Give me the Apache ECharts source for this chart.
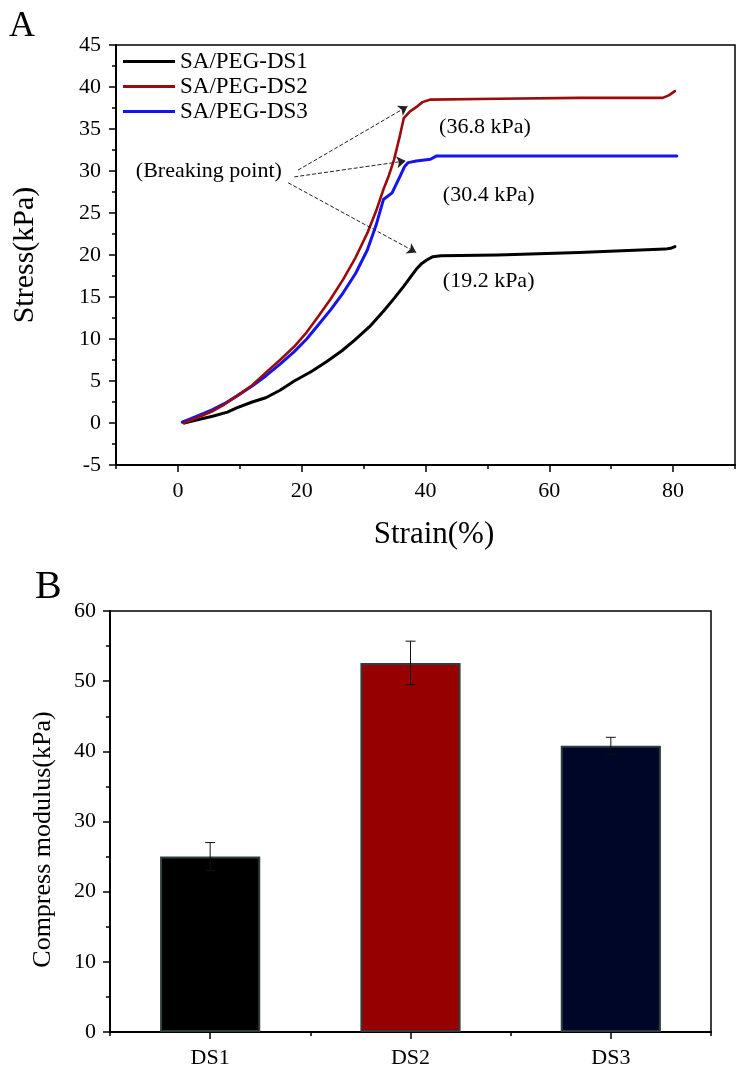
<!DOCTYPE html>
<html>
<head>
<meta charset="utf-8">
<script src="https://cdn.jsdelivr.net/npm/echarts@6/dist/echarts.min.js"></script>
<style>
html,body{margin:0;padding:0;background:#fff;}
#chart{width:740px;height:1069px;}
</style>
</head>
<body>
<div id="chart"></div>
<script>
// ---------- Panel A data: stress-strain curves [strain %, stress kPa] ----------
const seriesNames = ['SA/PEG-DS1', 'SA/PEG-DS2', 'SA/PEG-DS3'];
const ds1Curve = [[1.0,0.0],[3.0,0.35],[5.6,0.8],[8.0,1.3],[9.5,1.8],[12.0,2.5],[14.2,3.0],[16.5,3.9],[18.8,5.0],[21.5,6.1],[24.0,7.3],[26.5,8.6],[28.6,9.9],[31.0,11.5],[33.2,13.3],[35.0,14.9],[36.5,16.3],[37.6,17.4],[38.5,18.3],[39.4,19.0],[40.2,19.4],[41.2,19.8],[42.5,19.9],[51.7,20.0],[64.8,20.3],[78.7,20.7],[79.6,20.8],[80.3,21.0]];
const ds2Curve = [[1.0,0.0],[3.0,0.6],[5.6,1.4],[7.5,2.2],[9.5,3.2],[12.0,4.5],[14.2,6.0],[16.5,7.5],[18.8,9.1],[20.8,10.8],[22.7,12.7],[24.7,14.8],[26.7,17.1],[28.7,19.7],[30.6,22.6],[32.0,25.2],[33.2,27.8],[34.1,29.5],[34.9,31.3],[35.8,34.0],[36.5,36.3],[37.5,37.1],[38.5,37.6],[39.5,38.2],[40.8,38.5],[51.7,38.6],[64.8,38.7],[78.3,38.7],[79.3,39.0],[80.3,39.5]];
const ds3Curve = [[0.7,0.1],[3.0,0.8],[5.6,1.6],[7.5,2.3],[9.5,3.2],[12.0,4.4],[14.2,5.6],[16.5,7.0],[18.8,8.5],[20.8,10.0],[22.7,11.7],[24.7,13.5],[26.7,15.5],[28.7,17.8],[30.6,20.6],[32.0,23.5],[33.2,26.6],[34.6,27.4],[35.9,29.4],[36.6,30.5],[37.2,31.0],[38.5,31.2],[40.8,31.4],[41.8,31.8],[51.7,31.8],[80.6,31.8]];
const xTickLabels = [0, 20, 40, 60, 80];
// annotation texts and their anchor points [strain, stress]
const noteTexts = ['(Breaking point)', '(36.8 kPa)', '(30.4 kPa)', '(19.2 kPa)'];
const notePoints = [[5.0,30.0],[49.6,35.2],[50.2,27.1],[50.2,16.9]];
// arrows: [start, end] in data coordinates
const arrowStarts = [[19.4,30.1],[18.8,29.3],[17.8,28.6]];
const arrowEnds = [[37.1,37.7],[36.8,31.2],[38.5,20.3]];

// ---------- Panel B data: compress modulus ----------
const barCategories = ['DS1', 'DS2', 'DS3'];
const modulusValues = [25.0, 52.6, 40.8];
const modulusErrors = [2.0, 3.1, 1.2];

const serif = '"Liberation Serif","Times New Roman",serif';
const lineColors = ['#000000', '#9a0c0c', '#1414f0'];
const barColors = ['#000000', '#960000', '#000628'];

const chart = echarts.init(document.getElementById('chart'), null, {renderer: 'canvas'});

const tickLine = {color: '#000', width: 1.5};

const option = {
  backgroundColor: '#fff',
  animation: false,
  title: [
    {text: 'A', left: 4, top: 4, textStyle: {fontFamily: serif, fontSize: 36, fontWeight: 'normal', color: '#000'}},
    {text: 'B', left: 30, top: 562, textStyle: {fontFamily: serif, fontSize: 40, fontWeight: 'normal', color: '#000'}}
  ],
  legend: {
    data: seriesNames,
    orient: 'vertical',
    left: 118,
    top: 45,
    icon: 'path://M0,0 L52,0 L52,3 L0,3 Z',
    itemWidth: 52,
    itemHeight: 3,
    itemGap: 2,
    textStyle: {fontFamily: serif, fontSize: 23, color: '#000', lineHeight: 23}
  },
  grid: [
    {left: 116, right: 5, top: 45, height: 420, show: true, borderColor: '#000', borderWidth: 1.5, backgroundColor: 'transparent'},
    {left: 110, right: 29, top: 611, height: 422, show: true, borderColor: '#000', borderWidth: 1.5, backgroundColor: 'transparent'}
  ],
  xAxis: [
    {
      gridIndex: 0, type: 'value', min: -10, max: 90,
      name: 'Strain(%)', nameLocation: 'middle', nameGap: 54,
      nameTextStyle: {fontFamily: serif, fontSize: 31, color: '#000', padding: [0, 0, 0, 17]},
      axisLine: {onZero: false, lineStyle: {color: '#000', width: 2}},
      axisTick: {show: true, inside: false, length: 7, customValues: xTickLabels, lineStyle: tickLine},
      axisLabel: {customValues: xTickLabels, fontFamily: serif, fontSize: 22, color: '#000', margin: 15},
      splitLine: {show: false}
    },
    {
      gridIndex: 0, type: 'value', min: -10, max: 90, interval: 20, position: 'bottom',
      axisLine: {show: false, onZero: false},
      axisTick: {show: true, length: 4, lineStyle: tickLine},
      axisLabel: {show: false},
      splitLine: {show: false}
    },
    {
      gridIndex: 1, type: 'category', data: barCategories,
      axisLine: {lineStyle: {color: '#000', width: 2}},
      axisTick: {show: true, alignWithLabel: true, length: 7, lineStyle: tickLine},
      axisLabel: {fontFamily: serif, fontSize: 22, color: '#000', margin: 15}
    },
    {
      gridIndex: 1, type: 'category', data: barCategories, position: 'bottom',
      axisLine: {show: false},
      axisTick: {show: true, alignWithLabel: false, length: 4, lineStyle: tickLine},
      axisLabel: {show: false}
    }
  ],
  yAxis: [
    {
      gridIndex: 0, type: 'value', min: -5, max: 45, interval: 5,
      name: 'Stress(kPa)', nameLocation: 'middle', nameGap: 76,
      nameTextStyle: {fontFamily: serif, fontSize: 30, color: '#000'},
      axisLine: {show: true, onZero: false, lineStyle: {color: '#000', width: 2}},
      axisTick: {show: true, length: 7, lineStyle: tickLine},
      minorTick: {show: true, splitNumber: 2, length: 4, lineStyle: tickLine},
      axisLabel: {fontFamily: serif, fontSize: 22, color: '#000', margin: 15},
      splitLine: {show: false}
    },
    {
      gridIndex: 1, type: 'value', min: 0, max: 60, interval: 10,
      name: 'Compress modulus(kPa)', nameLocation: 'middle', nameGap: 54,
      nameTextStyle: {fontFamily: serif, fontSize: 26, color: '#000', padding: [0, 36, 0, 0]},
      axisLine: {show: true, onZero: false, lineStyle: {color: '#000', width: 2}},
      axisTick: {show: true, length: 7, lineStyle: tickLine},
      minorTick: {show: true, splitNumber: 2, length: 4, lineStyle: tickLine},
      axisLabel: {fontFamily: serif, fontSize: 22, color: '#000', margin: 14},
      splitLine: {show: false}
    }
  ],
  series: [
    {
      name: seriesNames[0], type: 'line', xAxisIndex: 0, yAxisIndex: 0,
      data: ds1Curve, showSymbol: false, smooth: false,
      lineStyle: {color: lineColors[0], width: 3, join: 'round', cap: 'round'}, itemStyle: {color: lineColors[0]},
      z: 3
    },
    {
      name: seriesNames[1], type: 'line', xAxisIndex: 0, yAxisIndex: 0,
      data: ds2Curve, showSymbol: false, smooth: false,
      lineStyle: {color: lineColors[1], width: 2.6, join: 'round', cap: 'round'}, itemStyle: {color: lineColors[1]},
      z: 3
    },
    {
      name: seriesNames[2], type: 'line', xAxisIndex: 0, yAxisIndex: 0,
      data: ds3Curve, showSymbol: false, smooth: false,
      lineStyle: {color: lineColors[2], width: 3, join: 'round', cap: 'round'}, itemStyle: {color: lineColors[2]},
      z: 2
    },
    {
      name: 'notes', type: 'scatter', xAxisIndex: 0, yAxisIndex: 0,
      data: notePoints.map((p, i) => ({value: p, label: {formatter: noteTexts[i]}})),
      symbolSize: 0, silent: true,
      itemStyle: {opacity: 1},
      label: {show: true, position: 'inside', fontFamily: serif, fontSize: 22, color: '#000'},
      markLine: {
        silent: true,
        symbol: ['none', 'arrow'],
        symbolSize: 9,
        label: {show: false},
        lineStyle: {color: '#222', width: 1, type: [4, 2], opacity: 1},
        data: arrowStarts.map((s, i) => [{coord: s}, {coord: arrowEnds[i]}])
      }
    },
    {
      name: 'modulus', type: 'bar', xAxisIndex: 2, yAxisIndex: 1,
      data: modulusValues.map((v, i) => ({value: v, itemStyle: {color: barColors[i]}})),
      barWidth: '50%',
      itemStyle: {borderColor: '#2e3e3e', borderWidth: 2}
    },
    {
      name: 'errors', type: 'custom', xAxisIndex: 2, yAxisIndex: 1,
      data: modulusValues.map((v, i) => [i, v - modulusErrors[i], v + modulusErrors[i]]),
      z: 5,
      renderItem: function (params, api) {
        const x = api.value(0);
        const lo = api.coord([x, api.value(1)]);
        const hi = api.coord([x, api.value(2)]);
        const half = 5;
        const st = {stroke: '#111', lineWidth: 1};
        return {
          type: 'group',
          children: [
            {type: 'line', shape: {x1: lo[0], y1: lo[1], x2: hi[0], y2: hi[1]}, style: st},
            {type: 'line', shape: {x1: hi[0] - half, y1: hi[1], x2: hi[0] + half, y2: hi[1]}, style: st},
            {type: 'line', shape: {x1: lo[0] - half, y1: lo[1], x2: lo[0] + half, y2: lo[1]}, style: st}
          ]
        };
      }
    }
  ]
};
chart.setOption(option);
</script>
</body>
</html>
